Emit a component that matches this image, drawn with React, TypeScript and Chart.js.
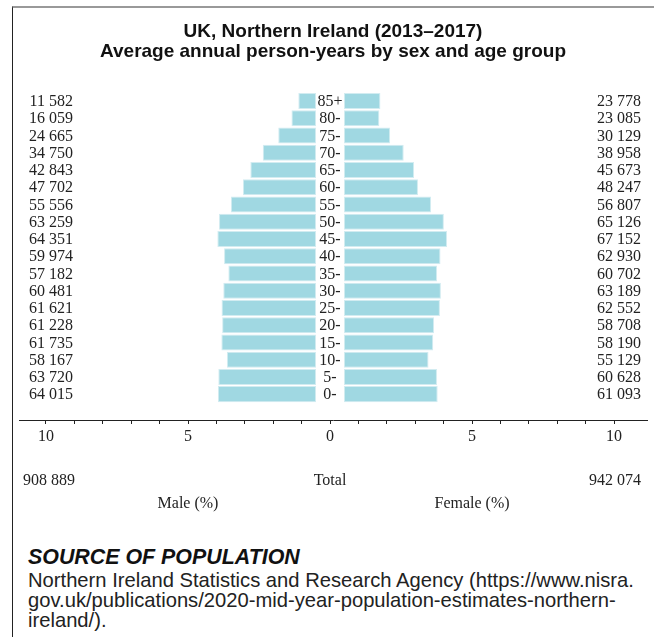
import React, { useEffect, useRef } from 'react';
import { Chart, registerables } from 'chart.js';

Chart.register(...registerables);

// ---- data ----
const AGE_GROUPS = ['85+', '80-', '75-', '70-', '65-', '60-', '55-', '50-', '45-', '40-', '35-', '30-', '25-', '20-', '15-', '10-', '5-', '0-'];
const MALE = [11582, 16059, 24665, 34750, 42843, 47702, 55556, 63259, 64351, 59974, 57182, 60481, 61621, 61228, 61735, 58167, 63720, 64015];
const FEMALE = [23778, 23085, 30129, 38958, 45673, 48247, 56807, 65126, 67152, 62930, 60702, 63189, 62552, 58708, 58190, 55129, 60628, 61093];
const TOTALS = [908889, 942074]; // male, female
const X_TICKS = [-10, -9, -8, -7, -6, -5, -4, -3, -2, -1, 0, 1, 2, 3, 4, 5, 6, 7, 8, 9, 10];
const X_LABELED = [-10, -5, 0, 5, 10];
const TITLE = ['UK, Northern Ireland (2013\u20132017)', 'Average annual person-years by sex and age group'];

// ---- style ----
const GAP = 0.49; // half width of the central age-label column, in axis units
const BAR = '#a0d8e2';
const EDGE = '#d2ecf1';
const INK = '#222222';
const SERIF = '"Liberation Serif", "DejaVu Serif", serif';
const SANS = '"Liberation Sans", Arial, sans-serif';

const fmt = (n: number) => String(n).replace(/\B(?=(\d{3})+(?!\d))/g, ' ');

export default function App() {
  const ref = useRef<HTMLCanvasElement>(null);

  useEffect(() => {
    if (!ref.current) return;
    const grand = TOTALS[0] + TOTALS[1];
    const pct = (v: number) => (v / grand) * 100;

    const textPlugin = {
      id: 'pyramidText',
      afterDraw(chart: any) {
        const ctx = chart.ctx;
        const xs = chart.scales.x;
        const ys = chart.scales.y;
        const a = chart.chartArea;
        ctx.save();
        ctx.fillStyle = INK;
        ctx.font = `16px ${SERIF}`;
        ctx.textBaseline = 'middle';
        AGE_GROUPS.forEach((g, i) => {
          const py = ys.getPixelForValue(i) + 1;
          ctx.textAlign = 'right';
          ctx.fillText(fmt(MALE[i]), a.left + 54, py);
          ctx.textAlign = 'center';
          ctx.fillText(g, xs.getPixelForValue(0), py);
          ctx.textAlign = 'right';
          ctx.fillText(fmt(FEMALE[i]), a.right - 6, py);
        });
        const ty = a.bottom + 61;
        ctx.textAlign = 'left';
        ctx.fillText(fmt(TOTALS[0]), a.left + 4, ty);
        ctx.textAlign = 'center';
        ctx.fillText('Total', xs.getPixelForValue(0), ty);
        ctx.textAlign = 'right';
        ctx.fillText(fmt(TOTALS[1]), a.right - 6, ty);
        const ly = a.bottom + 84;
        ctx.textAlign = 'center';
        ctx.fillText('Male (%)', xs.getPixelForValue(-5), ly);
        ctx.fillText('Female (%)', xs.getPixelForValue(5), ly);
        ctx.restore();
      },
    };

    const chart = new Chart(ref.current, {
      type: 'bar',
      data: {
        labels: AGE_GROUPS,
        datasets: [
          {
            label: 'Male',
            data: MALE.map((v) => [-(GAP + pct(v)), -GAP]),
            backgroundColor: BAR,
            borderColor: EDGE,
            borderWidth: 1,
            borderSkipped: false,
            grouped: false,
            barPercentage: 0.93,
            categoryPercentage: 1,
          } as any,
          {
            label: 'Female',
            data: FEMALE.map((v) => [GAP, GAP + pct(v)]),
            backgroundColor: BAR,
            borderColor: EDGE,
            borderWidth: 1,
            borderSkipped: false,
            grouped: false,
            barPercentage: 0.93,
            categoryPercentage: 1,
          } as any,
        ],
      },
      options: {
        indexAxis: 'y',
        responsive: false,
        animation: false,
        devicePixelRatio: 1,
        layout: { padding: { top: 10, left: 19, right: 7, bottom: 80 } },
        plugins: {
          legend: { display: false },
          tooltip: { enabled: false },
          title: {
            display: true,
            text: TITLE,
            color: '#111',
            font: { family: SANS, size: 19, weight: 'bold', lineHeight: 20 / 19 },
            padding: { top: 12, bottom: 30.4 },
          },
        },
        scales: {
          y: {
            type: 'category',
            labels: [...AGE_GROUPS, ''],
            display: false,
            offset: true,
          },
          x: {
            type: 'linear',
            min: -10.95,
            max: 11.16,
            afterBuildTicks: (scale: any) => {
              scale.ticks = X_TICKS.map((v) => ({ value: v }));
            },
            afterFit: (scale: any) => {
              scale.height = 30;
            },
            border: { display: true, color: INK, width: 1 },
            grid: { display: true, drawOnChartArea: false, drawTicks: true, tickLength: 4, color: INK, lineWidth: 1 },
            ticks: {
              autoSkip: false,
              maxRotation: 0,
              padding: 3,
              color: INK,
              font: { family: SERIF, size: 16 },
              callback: (v: any) => (X_LABELED.includes(Number(v)) ? String(Math.abs(Number(v))) : ''),
            },
          },
        },
      },
      plugins: [textPlugin],
    });
    return () => chart.destroy();
  }, []);

  return (
    <div style={{ position: 'absolute', left: 0, top: 0, width: 654, height: 637, overflow: 'hidden', background: '#fff' }}>
      <div
        style={{
          position: 'absolute',
          left: 12,
          top: 6,
          width: 700,
          height: 700,
          borderTop: '2px solid #999',
          borderLeft: '1px solid #222',
          boxSizing: 'border-box',
        }}
      />
      <canvas ref={ref} width={654} height={530} style={{ position: 'absolute', left: 0, top: 0, width: 654, height: 530 }} />
      <div style={{ position: 'absolute', left: 28, top: 544, fontFamily: SANS, color: INK }}>
        <div style={{ fontWeight: 700, fontStyle: 'italic', fontSize: 21.4, lineHeight: '26px', color: '#111' }}>SOURCE OF POPULATION</div>
        <div style={{ fontSize: 20.2, lineHeight: '20px', whiteSpace: 'nowrap' }}>
          Northern Ireland Statistics and Research Agency (https://www.nisra.
          <br />
          gov.uk/publications/2020-mid-year-population-estimates-northern-
          <br />
          ireland/).
        </div>
      </div>
    </div>
  );
}
